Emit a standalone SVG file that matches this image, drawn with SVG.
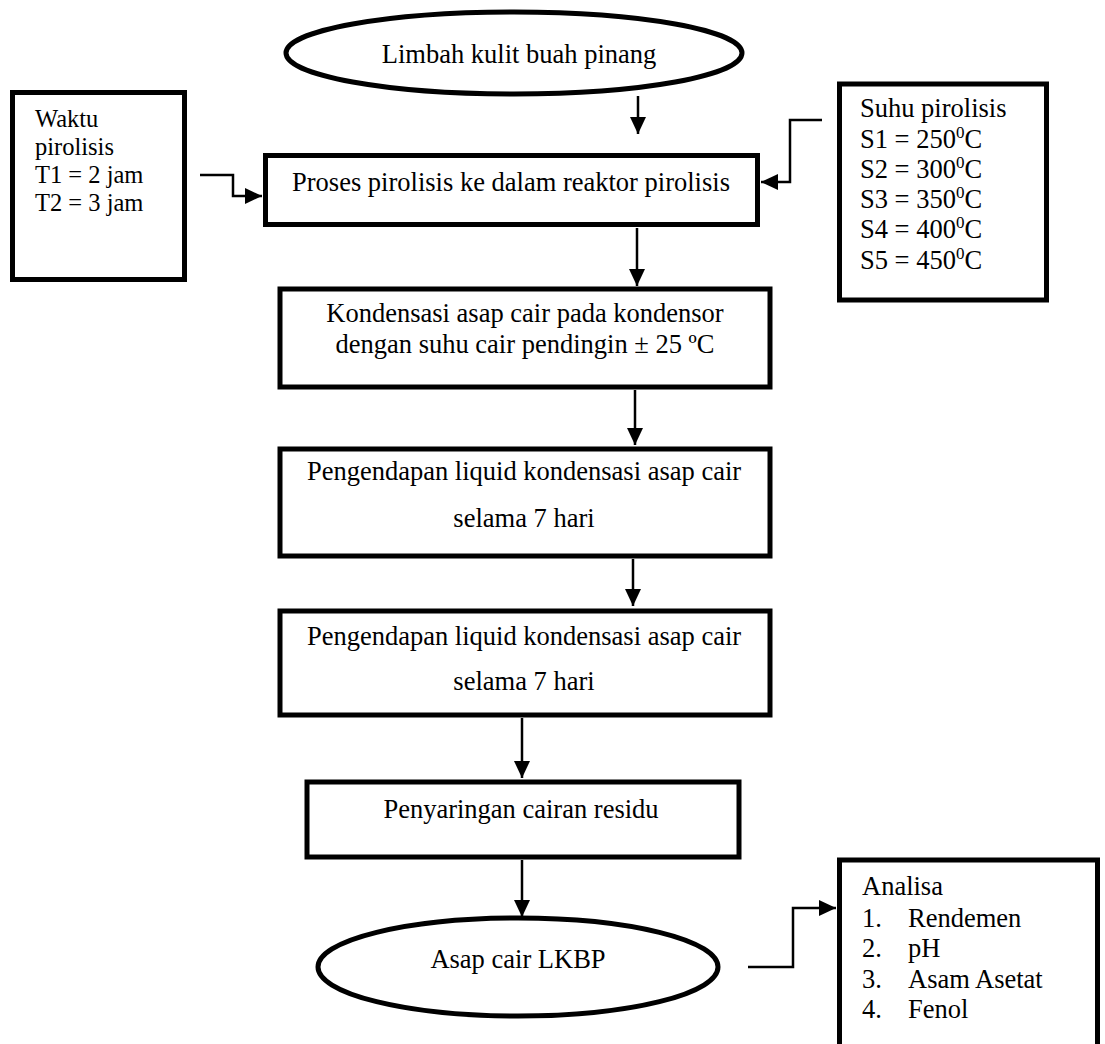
<svg xmlns="http://www.w3.org/2000/svg" width="1105" height="1044" viewBox="0 0 1105 1044">
<style>
.b{fill:#fff;stroke:#000;stroke-width:5}
.t{font-family:"Liberation Serif","Times New Roman",serif;font-size:26.5px;fill:#000}
.s{font-size:24.5px}
.c{text-anchor:middle}
.ln{fill:none;stroke:#000;stroke-width:2.5}
</style>
<defs>
<marker id="ah" markerUnits="userSpaceOnUse" markerWidth="18" markerHeight="16" refX="17" refY="8" orient="auto">
<path d="M0,0 L17,8 L0,16 z" fill="#000"/>
</marker>
</defs>
<rect width="1105" height="1044" fill="#fff"/>
<g id="connectors">
<path class="ln" d="M638,96 V134" marker-end="url(#ah)"/>
<path class="ln" d="M200,175 H233 V196 H262" marker-end="url(#ah)"/>
<path class="ln" d="M822,120 H790 V182 H761" marker-end="url(#ah)"/>
<path class="ln" d="M637,228 V286" marker-end="url(#ah)"/>
<path class="ln" d="M635,390 V445" marker-end="url(#ah)"/>
<path class="ln" d="M633,559 V606" marker-end="url(#ah)"/>
<path class="ln" d="M522,718 V778" marker-end="url(#ah)"/>
<path class="ln" d="M522,860 V917" marker-end="url(#ah)"/>
<path class="ln" d="M748,967 H793 V908 H836" marker-end="url(#ah)"/>
</g>
<g id="n-start">
<ellipse class="b" cx="514" cy="53" rx="228" ry="41"/>
<text class="t c" x="519" y="63">Limbah kulit buah pinang</text>
</g>
<g id="n-waktu">
<rect class="b" x="12.5" y="92.5" width="172" height="187"/>
<text class="t s" x="35" y="127">Waktu</text>
<text class="t s" x="35" y="155">pirolisis</text>
<text class="t s" x="35" y="183">T1 = 2 jam</text>
<text class="t s" x="35" y="211">T2 = 3 jam</text>
</g>
<g id="n-suhu">
<rect class="b" x="839.5" y="84" width="207" height="216"/>
<text class="t" x="860" y="117">Suhu pirolisis</text>
<text class="t" x="860" y="148">S1 = 250<tspan font-size="17" dy="-10">0</tspan><tspan dy="10">C</tspan></text>
<text class="t" x="860" y="178">S2 = 300<tspan font-size="17" dy="-10">0</tspan><tspan dy="10">C</tspan></text>
<text class="t" x="860" y="208">S3 = 350<tspan font-size="17" dy="-10">0</tspan><tspan dy="10">C</tspan></text>
<text class="t" x="860" y="238">S4 = 400<tspan font-size="17" dy="-10">0</tspan><tspan dy="10">C</tspan></text>
<text class="t" x="860" y="269">S5 = 450<tspan font-size="17" dy="-10">0</tspan><tspan dy="10">C</tspan></text>
</g>
<g id="n-proses">
<rect class="b" x="265.5" y="155.5" width="492" height="69"/>
<text class="t c" x="511" y="191">Proses pirolisis ke dalam reaktor pirolisis</text>
</g>
<g id="n-kondensasi">
<rect class="b" x="280" y="289" width="490" height="98"/>
<text class="t c" x="525" y="322">Kondensasi asap cair pada kondensor</text>
<text class="t c" x="525" y="353">dengan suhu cair pendingin ± 25 ºC</text>
</g>
<g id="n-pengendapan1">
<rect class="b" x="280" y="449" width="490" height="107"/>
<text class="t c" x="524" y="480">Pengendapan liquid kondensasi asap cair</text>
<text class="t c" x="524" y="527">selama 7 hari</text>
</g>
<g id="n-pengendapan2">
<rect class="b" x="280" y="611" width="490" height="104"/>
<text class="t c" x="524" y="645">Pengendapan liquid kondensasi asap cair</text>
<text class="t c" x="524" y="690">selama 7 hari</text>
</g>
<g id="n-penyaringan">
<rect class="b" x="307" y="782" width="432" height="75"/>
<text class="t c" x="521" y="818">Penyaringan cairan residu</text>
</g>
<g id="n-asap">
<ellipse class="b" cx="518" cy="967" rx="200" ry="49"/>
<text class="t c" x="518" y="968">Asap cair LKBP</text>
</g>
<g id="n-analisa">
<rect class="b" x="839.5" y="860" width="258" height="200"/>
<text class="t" x="862" y="895">Analisa</text>
<text class="t" x="862" y="927">1.</text><text class="t" x="908" y="927">Rendemen</text>
<text class="t" x="862" y="957">2.</text><text class="t" x="908" y="957">pH</text>
<text class="t" x="862" y="988">3.</text><text class="t" x="908" y="988">Asam Asetat</text>
<text class="t" x="862" y="1018">4.</text><text class="t" x="908" y="1018">Fenol</text>
</g>
</svg>
